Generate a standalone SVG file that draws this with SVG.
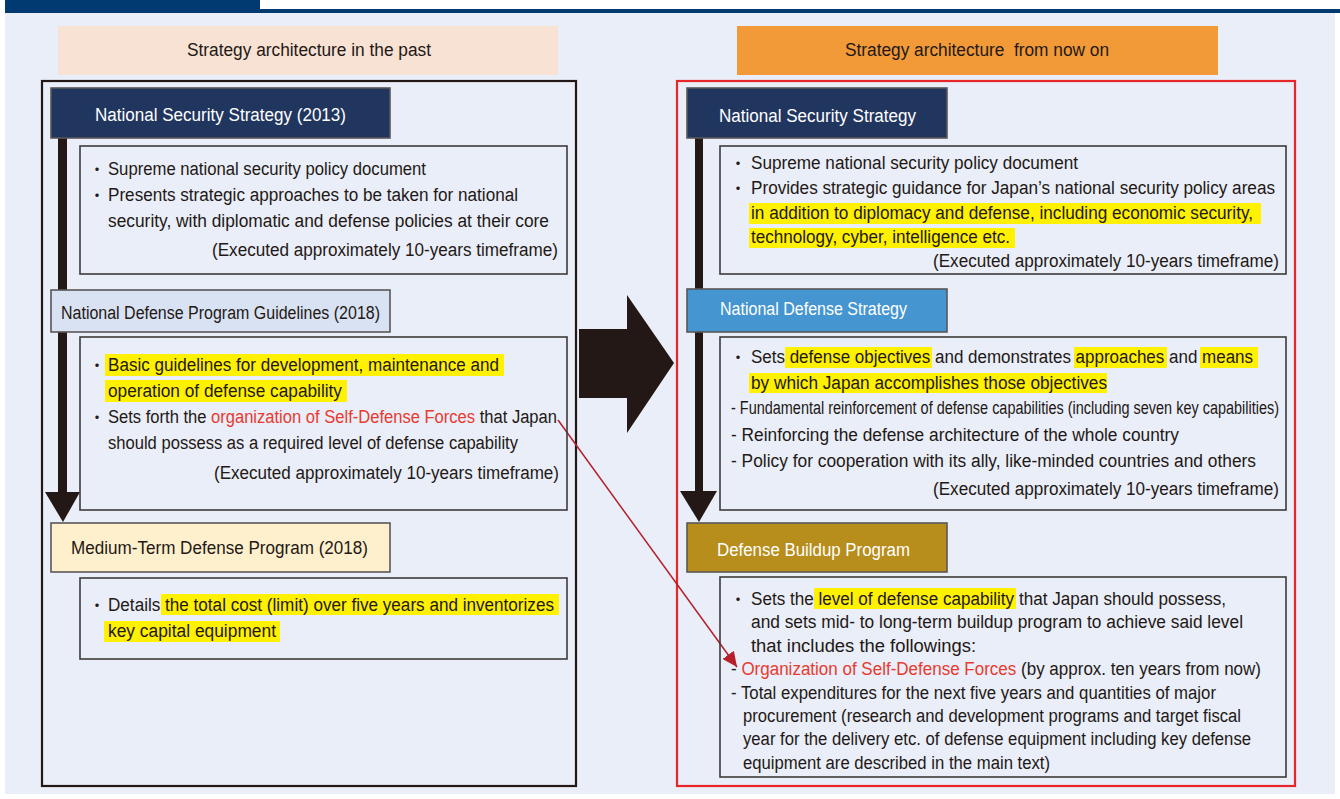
<svg xmlns="http://www.w3.org/2000/svg" width="1340" height="799" viewBox="0 0 1340 799">
<defs>
<style>
text{font-family:"Liberation Sans",Arial,"Noto Sans CJK JP",sans-serif;font-size:18px;fill:#231815}
.w{fill:#ffffff}
.r{fill:#E83A30}
.bul{font-family:"Noto Sans CJK JP","Liberation Sans",sans-serif;font-size:16px}
.hl{fill:#FFF100}
.cb{fill:none;stroke:#3E3A39;stroke-width:1.6}
.nb{stroke:#595757;stroke-width:1.6}
.sm{font-size:18px}
</style>
<marker id="ah" markerUnits="userSpaceOnUse" markerWidth="16" markerHeight="14" refX="15" refY="7" orient="auto">
<path d="M0,0 L15,7 L0,14 Z" fill="#B5202A"/>
</marker>
</defs>
<rect x="0" y="0" width="1340" height="799" fill="#ffffff"/>
<rect x="5" y="12" width="1330" height="782" fill="#E9EEF8"/>
<rect x="5" y="0" width="255" height="13" fill="#003A70"/>
<rect x="260" y="9" width="1080" height="4" fill="#003A70"/>

<g id="header-past">
<rect x="58" y="26" width="500" height="49" fill="#F8E2D4"/>
<text x="187" y="56" textLength="244" lengthAdjust="spacingAndGlyphs">Strategy architecture in the past</text>
</g>
<g id="header-now">
<rect x="737" y="26" width="481" height="49" fill="#F29A38"/>
<text x="845" y="56" textLength="264" lengthAdjust="spacingAndGlyphs" xml:space="preserve">Strategy architecture  from now on</text>
</g>

<g id="frame-past"><rect x="42" y="81" width="534" height="705" fill="none" stroke="#231815" stroke-width="2.2"/></g>
<g id="frame-now"><rect x="677" y="81" width="618" height="705" fill="none" stroke="#E8262A" stroke-width="2.2"/></g>

<g id="connectors">
<rect x="58" y="138" width="9" height="356" fill="#231815"/>
<polygon points="45,492 80,492 63,522" fill="#231815"/>
<rect x="695" y="138" width="8" height="355" fill="#231815"/>
<polygon points="680,491 717,491 699,522" fill="#231815"/>
<polygon points="579,329 627,329 627,295 674,363 627,433 627,398 579,398" fill="#231815"/>
<line x1="558" y1="420" x2="737" y2="667" stroke="#B5202A" stroke-width="1.5" marker-end="url(#ah)"/>
</g>

<g id="nss-2013">
<rect x="51" y="88" width="339" height="50" fill="#21365F" class="nb"/>
<text class="w" x="95" y="121" textLength="251" lengthAdjust="spacingAndGlyphs">National Security Strategy (2013)</text>
</g>
<g id="nss-2013-content">
<rect x="80" y="146" width="487" height="128" class="cb"/>
<text class="bul" x="97" y="175" text-anchor="middle">・</text>
<text x="108" y="175" textLength="318" lengthAdjust="spacingAndGlyphs">Supreme national security policy document</text>
<text class="bul" x="97" y="201" text-anchor="middle">・</text>
<text x="108" y="201" textLength="410" lengthAdjust="spacingAndGlyphs">Presents strategic approaches to be taken for national</text>
<text x="108" y="227" textLength="441" lengthAdjust="spacingAndGlyphs">security, with diplomatic and defense policies at their core</text>
<text x="212" y="256" textLength="346" lengthAdjust="spacingAndGlyphs">(Executed approximately 10-years timeframe)</text>
</g>

<g id="ndpg-2018">
<rect x="51" y="290" width="339" height="42" fill="#D8E2F2" class="nb"/>
<text x="61" y="319" textLength="319" lengthAdjust="spacingAndGlyphs">National Defense Program Guidelines (2018)</text>
</g>
<g id="ndpg-content">
<rect x="80" y="337" width="487" height="173" class="cb"/>
<rect x="105" y="354" width="399" height="22" class="hl"/>
<rect x="105" y="380" width="242" height="22" class="hl"/>
<text class="bul" x="97" y="371" text-anchor="middle">・</text>
<text x="108" y="371" textLength="391" lengthAdjust="spacingAndGlyphs">Basic guidelines for development, maintenance and</text>
<text x="108" y="397" textLength="234" lengthAdjust="spacingAndGlyphs">operation of defense capability</text>
<text class="bul" x="97" y="423" text-anchor="middle">・</text>
<text x="108" y="423" textLength="449" lengthAdjust="spacingAndGlyphs">Sets forth the <tspan class="r">organization of Self-Defense Forces</tspan> that Japan</text>
<text x="108" y="449" textLength="410" lengthAdjust="spacingAndGlyphs">should possess as a required level of defense capability</text>
<text x="214" y="479" textLength="345" lengthAdjust="spacingAndGlyphs">(Executed approximately 10-years timeframe)</text>
</g>

<g id="mtdp-2018">
<rect x="51" y="523" width="339" height="49" fill="#FEF0CD" class="nb"/>
<text x="71" y="554" textLength="297" lengthAdjust="spacingAndGlyphs">Medium-Term Defense Program (2018)</text>
</g>
<g id="mtdp-content">
<rect x="80" y="578" width="487" height="81" class="cb"/>
<rect x="161" y="594" width="398" height="21" class="hl"/>
<rect x="104" y="621" width="176" height="21" class="hl"/>
<text class="bul" x="97" y="611" text-anchor="middle">・</text>
<text x="108" y="611" textLength="446" lengthAdjust="spacingAndGlyphs">Details the total cost (limit) over five years and inventorizes</text>
<text x="108" y="637" textLength="168" lengthAdjust="spacingAndGlyphs">key capital equipment</text>
</g>

<g id="nss">
<rect x="687" y="88" width="260" height="50" fill="#21365F" class="nb"/>
<text class="w" x="719" y="122" textLength="197" lengthAdjust="spacingAndGlyphs">National Security Strategy</text>
</g>
<g id="nss-content">
<rect x="720" y="146" width="566" height="128" class="cb"/>
<rect x="749" y="203" width="512" height="21" class="hl"/>
<rect x="749" y="228" width="266" height="20" class="hl"/>
<text class="bul" x="738" y="169" text-anchor="middle">・</text>
<text x="751" y="169" textLength="327" lengthAdjust="spacingAndGlyphs">Supreme national security policy document</text>
<text class="bul" x="738" y="194" text-anchor="middle">・</text>
<text x="751" y="194" textLength="524" lengthAdjust="spacingAndGlyphs">Provides strategic guidance for Japan’s national security policy areas</text>
<text x="751" y="219" textLength="502" lengthAdjust="spacingAndGlyphs">in addition to diplomacy and defense, including economic security,</text>
<text x="751" y="243" textLength="259" lengthAdjust="spacingAndGlyphs">technology, cyber, intelligence etc.</text>
<text x="933" y="267" textLength="346" lengthAdjust="spacingAndGlyphs">(Executed approximately 10-years timeframe)</text>
</g>

<g id="nds">
<rect x="687" y="289" width="260" height="43" fill="#4595D1" class="nb"/>
<text class="w" x="720" y="315" textLength="187" lengthAdjust="spacingAndGlyphs">National Defense Strategy</text>
</g>
<g id="nds-content">
<rect x="720" y="337" width="566" height="173" class="cb"/>
<rect x="785" y="347" width="147" height="21" class="hl"/>
<rect x="1074" y="347" width="93" height="21" class="hl"/>
<rect x="1200" y="347" width="58" height="21" class="hl"/>
<rect x="749" y="373" width="358" height="20" class="hl"/>
<text class="bul" x="738" y="363" text-anchor="middle">・</text>
<text x="751" y="363" textLength="502" lengthAdjust="spacingAndGlyphs">Sets defense objectives and demonstrates approaches and means</text>
<text x="751" y="389" textLength="356" lengthAdjust="spacingAndGlyphs">by which Japan accomplishes those objectives</text>
<text class="sm" x="731" y="414" textLength="548" lengthAdjust="spacingAndGlyphs">- Fundamental reinforcement of defense capabilities (including seven key capabilities)</text>
<text x="731" y="441" textLength="448" lengthAdjust="spacingAndGlyphs">- Reinforcing the defense architecture of the whole country</text>
<text x="731" y="467" textLength="525" lengthAdjust="spacingAndGlyphs">- Policy for cooperation with its ally, like-minded countries and others</text>
<text x="933" y="495" textLength="346" lengthAdjust="spacingAndGlyphs">(Executed approximately 10-years timeframe)</text>
</g>

<g id="dbp">
<rect x="687" y="523" width="260" height="49" fill="#B78D1C" class="nb"/>
<text class="w" x="717" y="556" textLength="193" lengthAdjust="spacingAndGlyphs">Defense Buildup Program</text>
</g>
<g id="dbp-content">
<rect x="720" y="577" width="566" height="200" class="cb"/>
<rect x="814" y="588" width="202" height="21" class="hl"/>
<text class="bul" x="738" y="605" text-anchor="middle">・</text>
<text x="751" y="605" textLength="475" lengthAdjust="spacingAndGlyphs">Sets the level of defense capability that Japan should possess,</text>
<text x="751" y="628" textLength="492" lengthAdjust="spacingAndGlyphs">and sets mid- to long-term buildup program to achieve said level</text>
<text x="751" y="652" textLength="225" lengthAdjust="spacingAndGlyphs">that includes the followings:</text>
<text x="731" y="675" textLength="530" lengthAdjust="spacingAndGlyphs">- <tspan class="r">Organization of Self-Defense Forces</tspan> (by approx. ten years from now)</text>
<text x="731" y="699" textLength="485" lengthAdjust="spacingAndGlyphs">- Total expenditures for the next five years and quantities of major</text>
<text x="743" y="722" textLength="498" lengthAdjust="spacingAndGlyphs">procurement (research and development programs and target fiscal</text>
<text x="743" y="745" textLength="508" lengthAdjust="spacingAndGlyphs">year for the delivery etc. of defense equipment including key defense</text>
<text x="743" y="769" textLength="307" lengthAdjust="spacingAndGlyphs">equipment are described in the main text)</text>
</g>
</svg>
